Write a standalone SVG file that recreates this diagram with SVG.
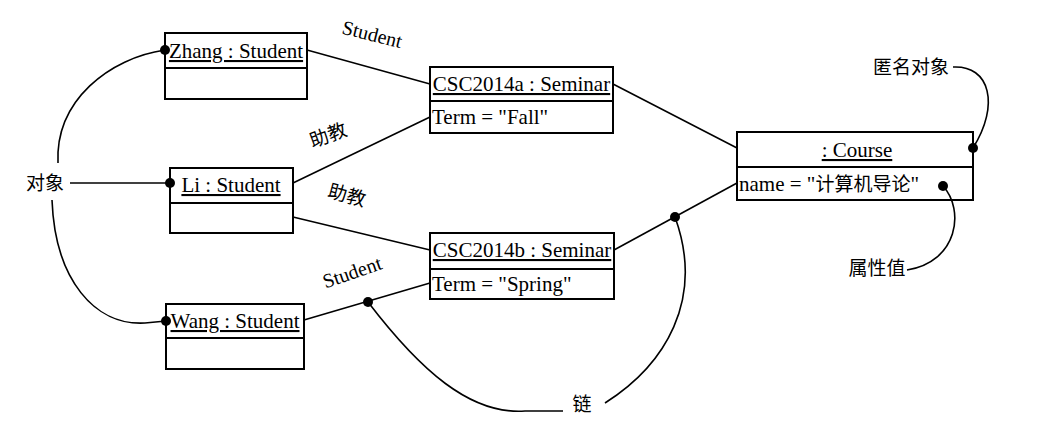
<svg xmlns="http://www.w3.org/2000/svg" width="1040" height="431" viewBox="0 0 1040 431">
<style>
.box{fill:#fff;stroke:#000;stroke-width:2}
.t{font-family:"Liberation Serif","Noto Sans CJK SC",serif;font-size:21px;fill:#000}
.u{text-decoration:underline}
.lbl{font-family:"Liberation Serif","Noto Sans CJK SC",serif;font-size:20px;fill:#000}
.cn{font-family:"Noto Sans CJK SC",sans-serif;font-size:19px;fill:#000}
.ln{fill:none;stroke:#000;stroke-width:1.6}
.dot{fill:#000}
</style>
<rect width="1040" height="431" fill="#fff"/>
<g id="zhang">
<rect class="box" x="165" y="33" width="142" height="66"/>
<line class="box" x1="165" y1="68" x2="307" y2="68"/>
<text class="t u" x="236" y="58" text-anchor="middle">Zhang : Student</text>
</g>
<g id="li">
<rect class="box" x="170" y="168" width="123" height="65"/>
<line class="box" x1="170" y1="203" x2="293" y2="203"/>
<text class="t u" x="231" y="192" text-anchor="middle">Li : Student</text>
</g>
<g id="wang">
<rect class="box" x="166" y="304" width="138" height="65"/>
<line class="box" x1="166" y1="338" x2="304" y2="338"/>
<text class="t u" x="235" y="328" text-anchor="middle">Wang : Student</text>
</g>
<g id="csc2014a">
<rect class="box" x="430" y="67" width="183" height="66"/>
<line class="box" x1="430" y1="101" x2="613" y2="101"/>
<text class="t u" x="521.5" y="91" text-anchor="middle">CSC2014a : Seminar</text>
<text class="t" x="432" y="124">Term = "Fall"</text>
</g>
<g id="csc2014b">
<rect class="box" x="430" y="233" width="184" height="66"/>
<line class="box" x1="430" y1="269" x2="614" y2="269"/>
<text class="t u" x="522" y="257" text-anchor="middle">CSC2014b : Seminar</text>
<text class="t" x="432" y="291">Term = "Spring"</text>
</g>
<g id="course">
<rect class="box" x="737" y="132" width="236" height="68"/>
<line class="box" x1="737" y1="167" x2="973" y2="167"/>
<text class="t u" x="857" y="157" text-anchor="middle">: Course</text>
<text class="t" x="739" y="191">name = "<tspan style="font-family:'Noto Sans CJK SC',sans-serif;font-size:19px">计算机导论</tspan>"</text>
</g>
<g id="connectors">
<line class="ln" x1="307" y1="50" x2="430" y2="84"/>
<line class="ln" x1="293" y1="183" x2="430" y2="117"/>
<line class="ln" x1="293" y1="217" x2="430" y2="250"/>
<line class="ln" x1="304" y1="320" x2="430" y2="283"/>
<line class="ln" x1="613" y1="84" x2="737" y2="148"/>
<line class="ln" x1="614" y1="250" x2="737" y2="183"/>
<line class="ln" x1="70" y1="183" x2="170" y2="183"/>
<path class="ln" d="M58,163 C55,100 110,58 165,50"/>
<path class="ln" d="M52,200 C55,280 95,326 145,323 L166,321"/>
<path class="ln" d="M368,302 C420,370 470,415 525,411 L563,411"/>
<path class="ln" d="M605,403 C665,365 705,300 675,217"/>
<path class="ln" d="M953,67 C990,65 1000,105 973,148"/>
<path class="ln" d="M943,186 C965,210 958,262 907,270"/>
<circle class="dot" cx="165" cy="50" r="5"/>
<circle class="dot" cx="170" cy="183" r="5"/>
<circle class="dot" cx="166" cy="321" r="5"/>
<circle class="dot" cx="368" cy="302" r="5"/>
<circle class="dot" cx="675" cy="217" r="5"/>
<circle class="dot" cx="973" cy="148" r="5"/>
<circle class="dot" cx="943" cy="186" r="5"/>
</g>
<g id="labels">
<text class="lbl" x="372" y="41" text-anchor="middle" transform="rotate(14 372 35)">Student</text>
<text class="cn" x="328" y="142" text-anchor="middle" transform="rotate(-20 328 135)">助教</text>
<text class="cn" x="347" y="202" text-anchor="middle" transform="rotate(15 347 195)">助教</text>
<text class="lbl" x="352" y="279" text-anchor="middle" transform="rotate(-19 352 272)">Student</text>
<text class="cn" x="45" y="190" text-anchor="middle">对象</text>
<text class="cn" x="582" y="411" text-anchor="middle">链</text>
<text class="cn" x="911" y="74" text-anchor="middle">匿名对象</text>
<text class="cn" x="877" y="275" text-anchor="middle">属性值</text>
</g>
</svg>
